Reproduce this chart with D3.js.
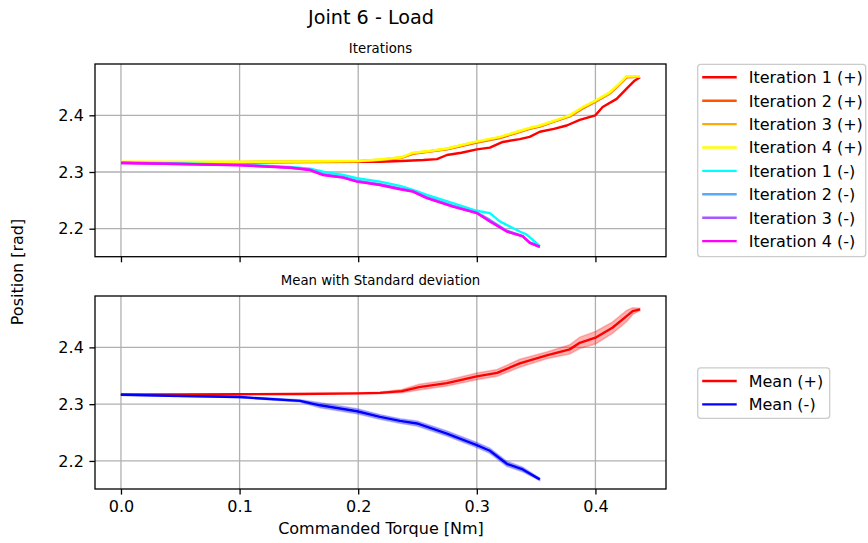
<!DOCTYPE html>
<html>
<head>
<meta charset="utf-8">
<script src="https://cdn.jsdelivr.net/npm/d3@7"></script>
<style>
  html, body { margin: 0; padding: 0; background: #fff; }
  svg { display: block; font-family: "DejaVu Sans", sans-serif; }
</style>
</head>
<body>
<svg id="chart" width="868" height="543"></svg>
<script>
// Joint 6 load test: position vs commanded torque, four iterations per direction.

const xTicks = [0.0, 0.1, 0.2, 0.3, 0.4];
const yTicks = [2.2, 2.3, 2.4];

// Positive direction iterations: [torque, position]
const iter1Plus = [[0,2.317],[0.05,2.317],[0.10,2.3172],[0.15,2.3175],[0.20,2.318],[0.2184,2.3182],[0.2364,2.3195],[0.2550,2.3212],[0.2664,2.3228],[0.2748,2.330],[0.2870,2.334],[0.3000,2.340],[0.3110,2.343],[0.3219,2.353],[0.3362,2.358],[0.3445,2.362],[0.3531,2.371],[0.3650,2.376],[0.3758,2.382],[0.3868,2.392],[0.4000,2.400],[0.4061,2.4146],[0.4179,2.429],[0.4263,2.447],[0.4330,2.461],[0.4376,2.467]];
const iter2Plus = [[0,2.317],[0.05,2.3172],[0.10,2.3175],[0.15,2.318],[0.20,2.319],[0.2184,2.321],[0.2364,2.325],[0.2461,2.332],[0.2600,2.336],[0.2748,2.340],[0.3000,2.352],[0.3194,2.360],[0.3337,2.369],[0.3445,2.376],[0.3531,2.380],[0.3650,2.389],[0.3783,2.398],[0.3893,2.412],[0.4000,2.424],[0.4118,2.438],[0.4202,2.454],[0.4263,2.467],[0.4376,2.468]];
const iter3Plus = [[0,2.3175],[0.05,2.3175],[0.10,2.3178],[0.15,2.3182],[0.20,2.3192],[0.2184,2.3215],[0.2364,2.3255],[0.2461,2.333],[0.2600,2.3365],[0.2748,2.341],[0.3000,2.353],[0.3194,2.361],[0.3337,2.370],[0.3445,2.377],[0.3531,2.381],[0.3650,2.3895],[0.3783,2.399],[0.3893,2.4135],[0.4000,2.425],[0.4118,2.439],[0.4202,2.455],[0.4263,2.468],[0.4376,2.4685]];
const iter4Plus = [[0,2.318],[0.05,2.318],[0.10,2.318],[0.15,2.3185],[0.20,2.3195],[0.2184,2.322],[0.2364,2.326],[0.2461,2.334],[0.2600,2.337],[0.2748,2.3415],[0.3000,2.354],[0.3194,2.362],[0.3337,2.371],[0.3445,2.378],[0.3531,2.382],[0.3650,2.390],[0.3783,2.400],[0.3893,2.4146],[0.4000,2.426],[0.4118,2.440],[0.4202,2.456],[0.4263,2.469],[0.4376,2.469]];

// Negative direction iterations
const iter1Minus = [[0,2.317],[0.05,2.315],[0.10,2.313],[0.1426,2.309],[0.1594,2.306],[0.1704,2.3005],[0.1872,2.2947],[0.1990,2.289],[0.2184,2.283],[0.2352,2.2754],[0.2461,2.2684],[0.2579,2.2596],[0.2798,2.245],[0.3000,2.2316],[0.3110,2.2275],[0.3194,2.2128],[0.3362,2.195],[0.3421,2.1895],[0.3531,2.169]];
const iter2Minus = [[0,2.3165],[0.05,2.3145],[0.10,2.3125],[0.1426,2.308],[0.1594,2.3045],[0.1704,2.296],[0.1872,2.291],[0.1990,2.2845],[0.2184,2.2785],[0.2352,2.271],[0.2461,2.2665],[0.2579,2.2555],[0.2798,2.2405],[0.3000,2.2285],[0.3110,2.2155],[0.3253,2.1965],[0.3387,2.187],[0.3446,2.176],[0.3531,2.1685]];
const iter3Minus = [[0,2.316],[0.05,2.3142],[0.10,2.3122],[0.1426,2.3078],[0.1594,2.3038],[0.1704,2.2952],[0.1872,2.2905],[0.1990,2.2835],[0.2184,2.2775],[0.2352,2.2702],[0.2461,2.2658],[0.2579,2.2545],[0.2798,2.2395],[0.3000,2.2278],[0.3110,2.2135],[0.3253,2.1955],[0.3387,2.1868],[0.3446,2.1755],[0.3531,2.168]];
const iter4Minus = [[0,2.316],[0.05,2.314],[0.10,2.312],[0.1426,2.3075],[0.1594,2.3035],[0.1704,2.2947],[0.1872,2.290],[0.1990,2.283],[0.2184,2.277],[0.2352,2.2696],[0.2461,2.2655],[0.2579,2.2538],[0.2798,2.239],[0.3000,2.2275],[0.3110,2.2128],[0.3253,2.195],[0.3387,2.1865],[0.3446,2.175],[0.3531,2.168]];

const iterNames = ["Iteration 1 (+)","Iteration 2 (+)","Iteration 3 (+)","Iteration 4 (+)",
                   "Iteration 1 (-)","Iteration 2 (-)","Iteration 3 (-)","Iteration 4 (-)"];
const iterColors = ["#ff0000","#ff5500","#ffaa00","#ffff00","#00ffff","#55aaff","#aa55ff","#ff00ff"];
const iterSeries = [iter1Plus, iter2Plus, iter3Plus, iter4Plus, iter1Minus, iter2Minus, iter3Minus, iter4Minus];

// Mean curves with standard deviation: [torque, mean, std]
const meanPlus = [[0,2.317,0.0005],[0.05,2.317,0.0005],[0.10,2.3175,0.0005],[0.15,2.318,0.0006],[0.20,2.319,0.0007],[0.2184,2.3199,0.0015],[0.2369,2.323,0.003],[0.2513,2.330,0.005],[0.2748,2.337,0.005],[0.3000,2.349,0.006],[0.3171,2.355,0.006],[0.3362,2.372,0.007],[0.3589,2.386,0.006],[0.3783,2.3965,0.008],[0.3868,2.408,0.010],[0.4000,2.417,0.011],[0.4143,2.4346,0.010],[0.4263,2.455,0.010],[0.4314,2.464,0.006],[0.4376,2.467,0.002]];
const meanMinus = [[0,2.3165,0.0005],[0.05,2.3145,0.0007],[0.10,2.3125,0.001],[0.1510,2.3058,0.002],[0.1678,2.298,0.0045],[0.1990,2.2875,0.0045],[0.2184,2.2776,0.004],[0.2352,2.2705,0.004],[0.2495,2.2660,0.0045],[0.2748,2.2483,0.0045],[0.3000,2.2280,0.0045],[0.3110,2.2180,0.0045],[0.3253,2.1950,0.0045],[0.3387,2.1850,0.004],[0.3531,2.1675,0.002]];

const meanNames = ["Mean (+)", "Mean (-)"];
const meanColors = ["#ff0000", "#0000ff"];
const meanSeries = [meanPlus, meanMinus];

const svg = d3.select("#chart");
const font = "DejaVu Sans, sans-serif";
const baseSize = 16;      // tick, legend and axis label text
const lw = 2.4;           // data line width

const left = 95, right = 666;
const panels = [{ top: 64, bottom: 256.7, title: "Iterations", showX: false },
                { top: 296, bottom: 489, title: "Mean with Standard deviation", showX: true }];

const x = d3.scaleLinear().domain([-0.0219, 0.4595]).range([left, right]);

panels.forEach((p, pi) => {
  const y = d3.scaleLinear().domain([2.1506, 2.4905]).range([p.bottom, p.top]);
  const g = svg.append("g");
  const clipId = "clip" + pi;
  svg.append("clipPath").attr("id", clipId)
    .append("rect").attr("x", left).attr("y", p.top).attr("width", right - left).attr("height", p.bottom - p.top);

  // grid
  g.append("g").selectAll("line").data(xTicks).join("line")
    .attr("x1", d => x(d)).attr("x2", d => x(d)).attr("y1", p.top).attr("y2", p.bottom)
    .attr("stroke", "#b0b0b0").attr("stroke-width", 1.3);
  g.append("g").selectAll("line").data(yTicks).join("line")
    .attr("x1", left).attr("x2", right).attr("y1", d => y(d)).attr("y2", d => y(d))
    .attr("stroke", "#b0b0b0").attr("stroke-width", 1.3);

  const plot = g.append("g").attr("clip-path", `url(#${clipId})`);
  const line = d3.line().x(d => x(d[0])).y(d => y(d[1]));

  if (pi === 0) {
    iterSeries.forEach((s, i) => {
      plot.append("path").datum(s).attr("d", line)
        .attr("fill", "none").attr("stroke", iterColors[i]).attr("stroke-width", lw)
        .attr("stroke-linejoin", "round");
    });
  } else {
    const area = d3.area().x(d => x(d[0])).y0(d => y(d[1] - d[2])).y1(d => y(d[1] + d[2]));
    meanSeries.forEach((s, i) => {
      plot.append("path").datum(s).attr("d", area)
        .attr("fill", meanColors[i]).attr("fill-opacity", 0.3).attr("stroke", meanColors[i])
        .attr("stroke-opacity", 0.25).attr("stroke-width", 1.5);
    });
    meanSeries.forEach((s, i) => {
      plot.append("path").datum(s).attr("d", line)
        .attr("fill", "none").attr("stroke", meanColors[i]).attr("stroke-width", lw)
        .attr("stroke-linejoin", "round");
    });
  }

  // axes
  const xAxis = d3.axisBottom(x).tickValues(xTicks).tickSize(5.6).tickPadding(5.6)
    .tickFormat(p.showX ? d3.format(".1f") : () => "");
  const gx = svg.append("g").attr("transform", `translate(0,${p.bottom})`).call(xAxis);
  const yAxis = d3.axisLeft(y).tickValues(yTicks).tickSize(5.6).tickPadding(5.6).tickFormat(d3.format(".1f"));
  const gy = svg.append("g").attr("transform", `translate(${left},0)`).call(yAxis);
  [gx, gy].forEach(a => {
    a.select(".domain").remove();
    a.selectAll(".tick line").attr("stroke", "#000").attr("stroke-width", 1.3);
    a.selectAll(".tick text").attr("font-family", font).attr("font-size", baseSize).attr("fill", "#000");
  });

  // frame
  svg.append("rect").attr("x", left).attr("y", p.top).attr("width", right - left).attr("height", p.bottom - p.top)
    .attr("fill", "none").attr("stroke", "#000").attr("stroke-width", 1.3);

  svg.append("text").attr("x", (left + right) / 2).attr("y", p.top - 11.5)
    .attr("text-anchor", "middle").attr("font-family", font).attr("font-size", 13.3).text(p.title);
});

// legends
function legend(names, colors, lx, ly, w, h, rowY) {
  const g = svg.append("g");
  g.append("rect").attr("x", lx).attr("y", ly).attr("width", w).attr("height", h)
    .attr("rx", 3).attr("fill", "#fff").attr("fill-opacity", 0.8)
    .attr("stroke", "#cccccc").attr("stroke-width", 1.3);
  names.forEach((n, i) => {
    const cy = rowY + i * 23.4;
    g.append("line").attr("x1", lx + 4.5).attr("x2", lx + 39).attr("y1", cy).attr("y2", cy)
      .attr("stroke", colors[i]).attr("stroke-width", lw);
    g.append("text").attr("x", lx + 51).attr("y", cy + 5.8).attr("font-family", font)
      .attr("font-size", baseSize).attr("fill", "#000").text(n);
  });
}
legend(iterNames, iterColors, 697.7, 64.3, 168, 192.4, 77.3);
legend(meanNames, meanColors, 697.7, 367.8, 132, 50.5, 381);

// figure labels
svg.append("text").attr("x", 371).attr("y", 24).attr("text-anchor", "middle")
  .attr("font-family", font).attr("font-size", 19.2).text("Joint 6 - Load");
svg.append("text").attr("x", 381).attr("y", 534).attr("text-anchor", "middle")
  .attr("font-family", font).attr("font-size", baseSize).text("Commanded Torque [Nm]");
svg.append("text").attr("transform", "translate(23,272) rotate(-90)").attr("text-anchor", "middle")
  .attr("font-family", font).attr("font-size", baseSize).text("Position [rad]");
</script>
</body>
</html>
